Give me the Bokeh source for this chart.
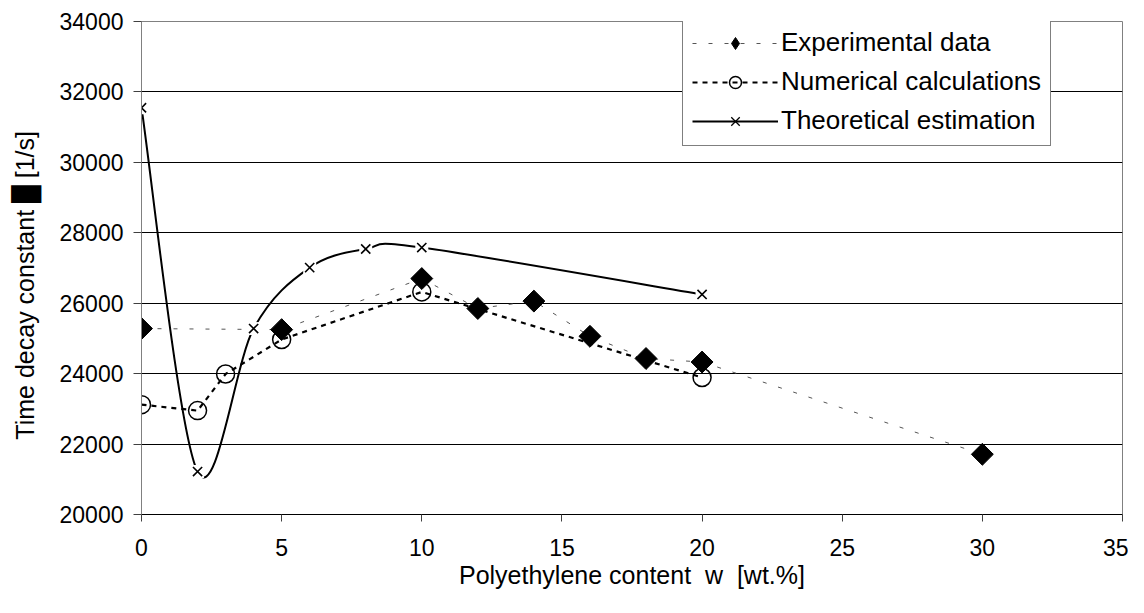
import numpy as np
from bokeh.plotting import figure
from bokeh.models import Range1d, FixedTicker, Legend, LegendItem
from bokeh.embed import file_html
from bokeh.resources import INLINE

# ---- data ----
exp_x = [0, 5, 10, 12, 14, 16, 18, 20, 30]
exp_y = [25280, 25250, 26700, 25850, 26060, 25060, 24430, 24330, 21710]
num_x = [0, 2, 3, 5, 10, 20]
num_y = [23120, 22950, 23990, 24970, 26320, 23890]
theo_x = [0, 2, 4, 6, 8, 10, 20]
theo_y = [31550, 21220, 25280, 27010, 27540, 27580, 26250]
x_ticks = [0, 5, 10, 15, 20, 25, 30, 35]
y_ticks = [20000, 22000, 24000, 26000, 28000, 30000, 32000, 34000]
labels = ["Experimental data", "Numerical calculations", "Theoretical estimation"]
x_title = "Polyethylene content\u00a0\u00a0w\u00a0\u00a0[wt.%]"
y_title = "Time decay constant \u2588 [1/s]" + "\u00a0" * 5

FONT = "Liberation Sans"
TITLE_FONT = "'Liberation Sans', 'DejaVu Sans'"

p = figure(width=1128, height=597, output_backend="svg", toolbar_location=None,
           x_range=Range1d(0, 35), y_range=Range1d(20000, 34000),
           min_border_left=141, min_border_right=6, min_border_top=21, min_border_bottom=83)
p.background_fill_color = "white"
p.border_fill_color = "white"
p.outline_line_color = "#808080"
p.outline_line_width = 1

p.xgrid.visible = False
p.ygrid.grid_line_color = "black"
p.ygrid.grid_line_width = 1
p.ygrid.ticker = FixedTicker(ticks=y_ticks)

p.xaxis.ticker = FixedTicker(ticks=x_ticks)
p.yaxis.ticker = FixedTicker(ticks=y_ticks)
for ax in (p.xaxis[0], p.yaxis[0]):
    ax.major_label_text_font = FONT
    ax.major_label_text_font_size = "23px"
    ax.major_label_text_color = "black"
    ax.minor_tick_line_color = None
    ax.major_tick_in = 0
    ax.axis_label_text_font = TITLE_FONT
    ax.axis_label_text_font_size = "25px"
    ax.axis_label_text_font_style = "normal"
    ax.axis_label_text_color = "black"
p.xaxis.axis_line_color = "black"
p.xaxis.major_tick_line_color = "#404040"
p.xaxis.major_tick_out = 7
p.xaxis.major_label_standoff = 17
p.xaxis.axis_label = x_title
p.xaxis.axis_label_standoff = 2
p.yaxis.axis_line_color = "#808080"
p.yaxis.major_tick_line_color = "#404040"
p.yaxis.major_tick_out = 8
p.yaxis.major_label_standoff = 10
p.yaxis.axis_label = y_title
p.yaxis.axis_label_standoff = 18

# ---- experimental ----
r_exp_line = p.line(exp_x, exp_y, line_color="#555555", line_width=1, line_dash="4 12")
p.scatter(exp_x, exp_y, marker="square", size=15.5, angle=np.pi / 4,
          fill_color="black", line_color="black")

# ---- numerical ----
r_num_line = p.line(num_x, num_y, line_color="black", line_width=2.2, line_dash="5 5")
p.scatter(num_x, num_y, marker="circle", size=18, fill_color=None,
          line_color="black", line_width=1.5)

# ---- theoretical (smoothed like the spreadsheet's smooth line) ----
n = len(theo_x)
seg = dict(x0=[], y0=[], x1=[], y1=[], cx0=[], cy0=[], cx1=[], cy1=[])
for i in range(n - 1):
    a = i - 1 if i > 0 else i
    d = i + 2 if i + 2 < n else i + 1
    seg["x0"].append(theo_x[i]); seg["y0"].append(theo_y[i])
    seg["x1"].append(theo_x[i + 1]); seg["y1"].append(theo_y[i + 1])
    seg["cx0"].append(theo_x[i] + (theo_x[i + 1] - theo_x[a]) / 6)
    seg["cy0"].append(theo_y[i] + (theo_y[i + 1] - theo_y[a]) / 6)
    seg["cx1"].append(theo_x[i + 1] - (theo_x[d] - theo_x[i]) / 6)
    seg["cy1"].append(theo_y[i + 1] - (theo_y[d] - theo_y[i]) / 6)
r_theo_line = p.bezier(source=seg, x0="x0", y0="y0", x1="x1", y1="y1",
                       cx0="cx0", cy0="cy0", cx1="cx1", cy1="cy1",
                       line_color="black", line_width=2)
p.scatter(theo_x, theo_y, marker="square", size=13, fill_color="white", line_color=None)
p.scatter(theo_x, theo_y, marker="x", size=13, line_color="black", line_width=1.6)

# ---- legend keys (smaller markers, as in the reference); their one point lies off the chart ----
off_x, off_y = [-100], [0]
k_exp = p.scatter(off_x, off_y, marker="diamond", size=19, fill_color="black", line_color="black")
k_num = p.scatter(off_x, off_y, marker="circle", size=11, fill_color=None,
                  line_color="black", line_width=1.5)
k_theo = p.scatter(off_x, off_y, marker="x", size=9, line_color="black", line_width=1.3)

legend = Legend(items=[
    LegendItem(label=labels[0], renderers=[r_exp_line, k_exp]),
    LegendItem(label=labels[1], renderers=[r_num_line, k_num]),
    LegendItem(label=labels[2], renderers=[r_theo_line, k_theo]),
], location=(541, 368))
legend.label_text_font = FONT
legend.label_text_font_size = "26px"
legend.label_text_color = "black"
legend.label_height = 30
legend.glyph_height = 30
legend.glyph_width = 86
legend.label_standoff = 3
legend.spacing = 8
legend.padding = 9
legend.margin = 0
legend.border_line_color = "black"
legend.border_line_width = 1
legend.background_fill_color = "white"
legend.background_fill_alpha = 1
p.add_layout(legend, "center")

open("out.html", "w").write(file_html(p, INLINE))
